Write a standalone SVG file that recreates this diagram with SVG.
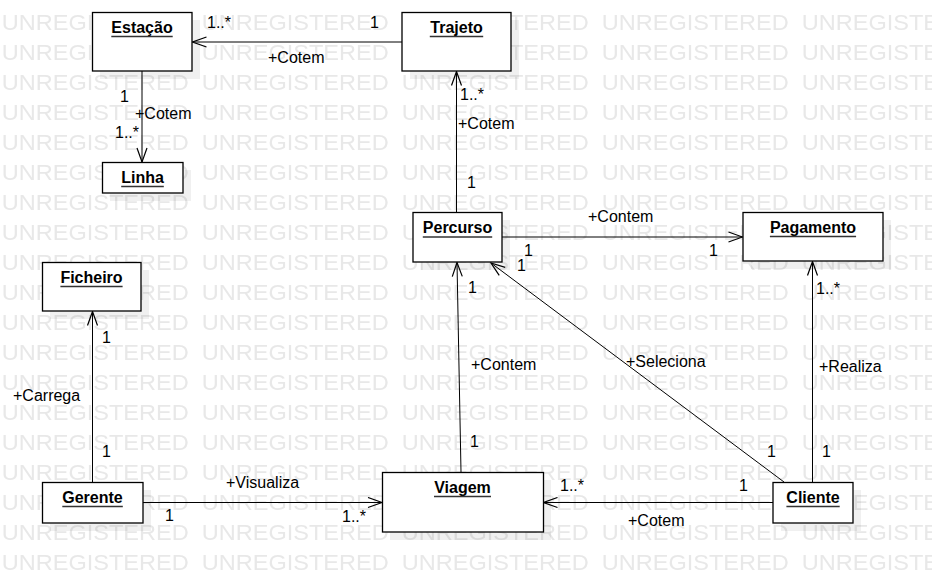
<svg xmlns="http://www.w3.org/2000/svg" width="932" height="582" viewBox="0 0 932 582">
<style>
.wm{font-family:"Liberation Sans",Arial,sans-serif;font-size:22.6px;fill:#e8e8e8}
.shadow{fill:#000;fill-opacity:0.06}
.box{fill:#fff;stroke:#000;stroke-width:1.3}
.title{font-family:"Liberation Sans",Arial,sans-serif;font-size:16px;font-weight:bold;fill:#000;text-anchor:middle}
.ul{stroke:#333;stroke-width:1.3}
.conn{stroke:#000;stroke-width:1;fill:none}
.lbl{font-family:"Liberation Sans",Arial,sans-serif;font-size:16px;fill:#000}
</style>
<defs>
<pattern id="wmp" patternUnits="userSpaceOnUse" x="0" y="0" width="200" height="30">
<text class="wm" x="1.7" y="30" textLength="187" lengthAdjust="spacingAndGlyphs">UNREGISTERED</text>
</pattern>
<marker id="open" markerUnits="userSpaceOnUse" viewBox="-15 -6 16 12" refX="0" refY="0" markerWidth="16" markerHeight="12" orient="auto">
<path d="M -14 -5 L 0 0 L -14 5" fill="none" stroke="#000" stroke-width="1.2"/>
</marker>
</defs>
<rect width="932" height="582" fill="#fff"/>
<rect width="932" height="582" fill="url(#wmp)"/>

<g id="connectors">
<line class="conn" x1="402" y1="42" x2="192.5" y2="42" marker-end="url(#open)"/>
<line class="conn" x1="142" y1="71" x2="142" y2="162" marker-end="url(#open)"/>
<line class="conn" x1="456.5" y1="212" x2="456.5" y2="71.5" marker-end="url(#open)"/>
<line class="conn" x1="502" y1="237" x2="742.5" y2="237" marker-end="url(#open)"/>
<line class="conn" x1="784" y1="482" x2="491" y2="263" marker-end="url(#open)"/>
<line class="conn" x1="461" y1="472" x2="457" y2="262.5" marker-end="url(#open)"/>
<line class="conn" x1="812.5" y1="482" x2="812.5" y2="261.5" marker-end="url(#open)"/>
<line class="conn" x1="92.5" y1="482" x2="92.5" y2="311.5" marker-end="url(#open)"/>
<line class="conn" x1="143" y1="502.5" x2="382" y2="502.5" marker-end="url(#open)"/>
<line class="conn" x1="773" y1="502.5" x2="543.5" y2="502.5" marker-end="url(#open)"/>

<text class="lbl" x="207" y="27.5">1..*</text>
<text class="lbl" x="268" y="63">+Cotem</text>
<text class="lbl" x="370" y="27.5">1</text>

<text class="lbl" x="120" y="102">1</text>
<text class="lbl" x="135" y="118.5">+Cotem</text>
<text class="lbl" x="115" y="138">1..*</text>

<text class="lbl" x="460" y="100">1..*</text>
<text class="lbl" x="458" y="128.5">+Cotem</text>
<text class="lbl" x="467" y="188">1</text>

<text class="lbl" x="588" y="222">+Contem</text>
<text class="lbl" x="524" y="256">1</text>
<text class="lbl" x="709" y="256">1</text>

<text class="lbl" x="517" y="271">1</text>
<text class="lbl" x="626" y="367">+Seleciona</text>
<text class="lbl" x="767" y="457">1</text>

<text class="lbl" x="468" y="293">1</text>
<text class="lbl" x="471" y="370">+Contem</text>
<text class="lbl" x="470" y="447">1</text>

<text class="lbl" x="816" y="293.5">1..*</text>
<text class="lbl" x="819" y="372">+Realiza</text>
<text class="lbl" x="822" y="457">1</text>

<text class="lbl" x="102" y="343">1</text>
<text class="lbl" x="13" y="401">+Carrega</text>
<text class="lbl" x="102" y="457">1</text>

<text class="lbl" x="226" y="487.5">+Visualiza</text>
<text class="lbl" x="165" y="521">1</text>
<text class="lbl" x="342" y="522">1..*</text>

<text class="lbl" x="560" y="491">1..*</text>
<text class="lbl" x="628" y="526">+Cotem</text>
<text class="lbl" x="739" y="491">1</text>
</g>

<g id="estacao">
<rect class="shadow" x="100" y="20" width="100" height="59"/>
<rect class="box" x="92.5" y="12.5" width="99.5" height="58.5"/>
<text class="title" x="142" y="32.5">Estação</text>
<line class="ul" x1="111.3" y1="36.5" x2="172.7" y2="36.5"/>
</g>

<g id="trajeto">
<rect class="shadow" x="410" y="20" width="109" height="59"/>
<rect class="box" x="402" y="12.5" width="109" height="58.5"/>
<text class="title" x="456.5" y="32.5">Trajeto</text>
<line class="ul" x1="429.8" y1="36.5" x2="483.2" y2="36.5"/>
</g>

<g id="linha">
<rect class="shadow" x="110" y="170" width="81" height="31"/>
<rect class="box" x="102.5" y="162.5" width="80.5" height="30.5"/>
<text class="title" x="142.5" y="182.5">Linha</text>
<line class="ul" x1="121.2" y1="186.5" x2="163.8" y2="186.5"/>
</g>

<g id="percurso">
<rect class="shadow" x="421" y="220" width="89" height="50"/>
<rect class="box" x="413" y="212.5" width="89" height="49.5"/>
<text class="title" x="457.5" y="233">Percurso</text>
<line class="ul" x1="422.8" y1="237" x2="492.2" y2="237"/>
</g>

<g id="pagamento">
<rect class="shadow" x="751" y="220" width="140" height="49"/>
<rect class="box" x="743" y="212.5" width="140" height="48.5"/>
<text class="title" x="813" y="232.5">Pagamento</text>
<line class="ul" x1="769.9" y1="236.5" x2="856.1" y2="236.5"/>
</g>

<g id="ficheiro">
<rect class="shadow" x="50" y="270" width="99" height="49"/>
<rect class="box" x="42.5" y="262.5" width="98.5" height="48.5"/>
<text class="title" x="91.5" y="282.5">Ficheiro</text>
<line class="ul" x1="60.4" y1="286.5" x2="122.6" y2="286.5"/>
</g>

<g id="gerente">
<rect class="shadow" x="50" y="490" width="101" height="41"/>
<rect class="box" x="42.5" y="482.5" width="100.5" height="40.5"/>
<text class="title" x="92.5" y="502.5">Gerente</text>
<line class="ul" x1="62.3" y1="506.5" x2="122.8" y2="506.5"/>
</g>

<g id="viagem">
<rect class="shadow" x="390" y="480" width="161" height="60"/>
<rect class="box" x="382.5" y="472.5" width="161" height="59.5"/>
<text class="title" x="462.5" y="492.5">Viagem</text>
<line class="ul" x1="434" y1="496.5" x2="491" y2="496.5"/>
</g>

<g id="cliente">
<rect class="shadow" x="781" y="490" width="80" height="41"/>
<rect class="box" x="773" y="482.5" width="80" height="40.5"/>
<text class="title" x="813" y="502.5">Cliente</text>
<line class="ul" x1="786.4" y1="506.5" x2="839.7" y2="506.5"/>
</g>
</svg>
